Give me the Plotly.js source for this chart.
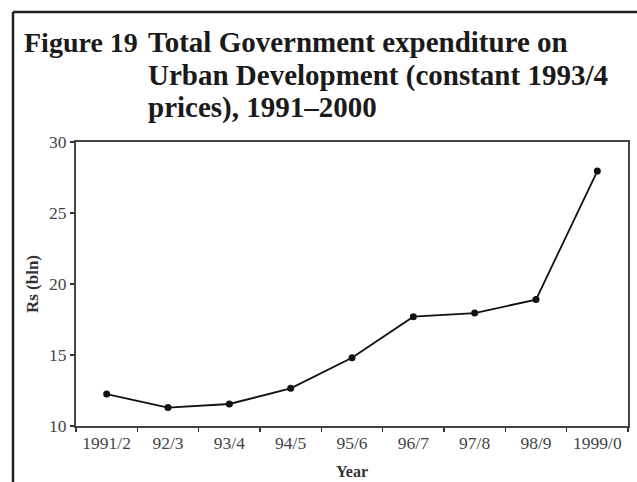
<!DOCTYPE html>
<html>
<head>
<meta charset="utf-8">
<script src="https://cdn.plot.ly/plotly-3.0.1.min.js"></script>
<style>
html,body{margin:0;padding:0;background:#fff;}
#chart{width:637px;height:482px;}
</style>
</head>
<body>
<div id="chart"></div>
<script>
// Data
const years = ["1991/2","92/3","93/4","94/5","95/6","96/7","97/8","98/9","1999/0"];
const expenditure = [12.25, 11.3, 11.55, 12.65, 14.8, 17.7, 17.95, 18.9, 27.95];
const yTicks = [10, 15, 20, 25, 30];

const figLabel = "Figure 19";
const titleLines = [
  "Total Government expenditure on",
  "Urban Development (constant 1993/4",
  "prices), 1991–2000"
];

const W = 637, H = 482;
const M = {l: 76, r: 9, t: 142, b: 56};
const pw = W - M.l - M.r, ph = H - M.t - M.b;
const px = x => (x - M.l) / pw;
const py = y => (H - M.b - y) / ph;

const serif = "Liberation Serif, Times New Roman, serif";
const labelFont = {family: serif, size: 28, color: "#1a1a1a", weight: 700};
const titleFont = {family: serif, size: 29, color: "#1a1a1a", weight: 700};

const lineYs = [42, 75, 107];
const annotations = [{
  text: "<b>" + figLabel + "</b>", xref: "paper", yref: "paper",
  x: px(22), y: py(lineYs[0]), xanchor: "left", yanchor: "middle",
  showarrow: false, font: labelFont
}];
titleLines.forEach((t, i) => annotations.push({
  text: "<b>" + t + "</b>", xref: "paper", yref: "paper",
  x: px(146), y: py(lineYs[i]), xanchor: "left", yanchor: "middle",
  showarrow: false, font: titleFont
}));

const trace = {
  type: "scatter", mode: "lines+markers",
  x: years, y: expenditure,
  line: {color: "#111", width: 1.8},
  marker: {color: "#111", size: 7, symbol: "circle"},
  hoverinfo: "x+y"
};

const layout = {
  width: W, height: H,
  margin: M,
  paper_bgcolor: "#fff", plot_bgcolor: "#fff",
  showlegend: false,
  xaxis: {
    type: "category", range: [-0.5, years.length - 0.5],
    tickson: "boundaries", ticks: "outside", ticklen: 4, tickwidth: 1.5, tickcolor: "#333",
    showline: true, linecolor: "#444", linewidth: 2, mirror: true,
    showgrid: false, zeroline: false,
    tickfont: {family: serif, size: 17.5, color: "#444"},
    title: {text: "<b>Year</b>", font: {family: serif, size: 16, color: "#333"}, standoff: 14}
  },
  yaxis: {
    range: [10, 30], tickvals: yTicks, ticktext: yTicks.map(String),
    ticks: "outside", ticklen: 4, tickwidth: 1.5, tickcolor: "#333",
    showline: true, linecolor: "#444", linewidth: 2, mirror: true,
    showgrid: false, zeroline: false,
    tickfont: {family: serif, size: 17.5, color: "#444"},
    title: {text: "<b>Rs (bln)</b>", font: {family: serif, size: 17, color: "#333"}, standoff: 6}
  },
  annotations: annotations,
  shapes: [
    {type: "line", xref: "paper", yref: "paper", x0: px(13), x1: px(13), y0: py(12), y1: py(482),
     line: {color: "#222", width: 2.5}},
    {type: "line", xref: "paper", yref: "paper", x0: px(13), x1: px(637), y0: py(12), y1: py(12),
     line: {color: "#222", width: 2.5}}
  ]
};

Plotly.newPlot("chart", [trace], layout, {displayModeBar: false, staticPlot: true});
</script>
</body>
</html>
